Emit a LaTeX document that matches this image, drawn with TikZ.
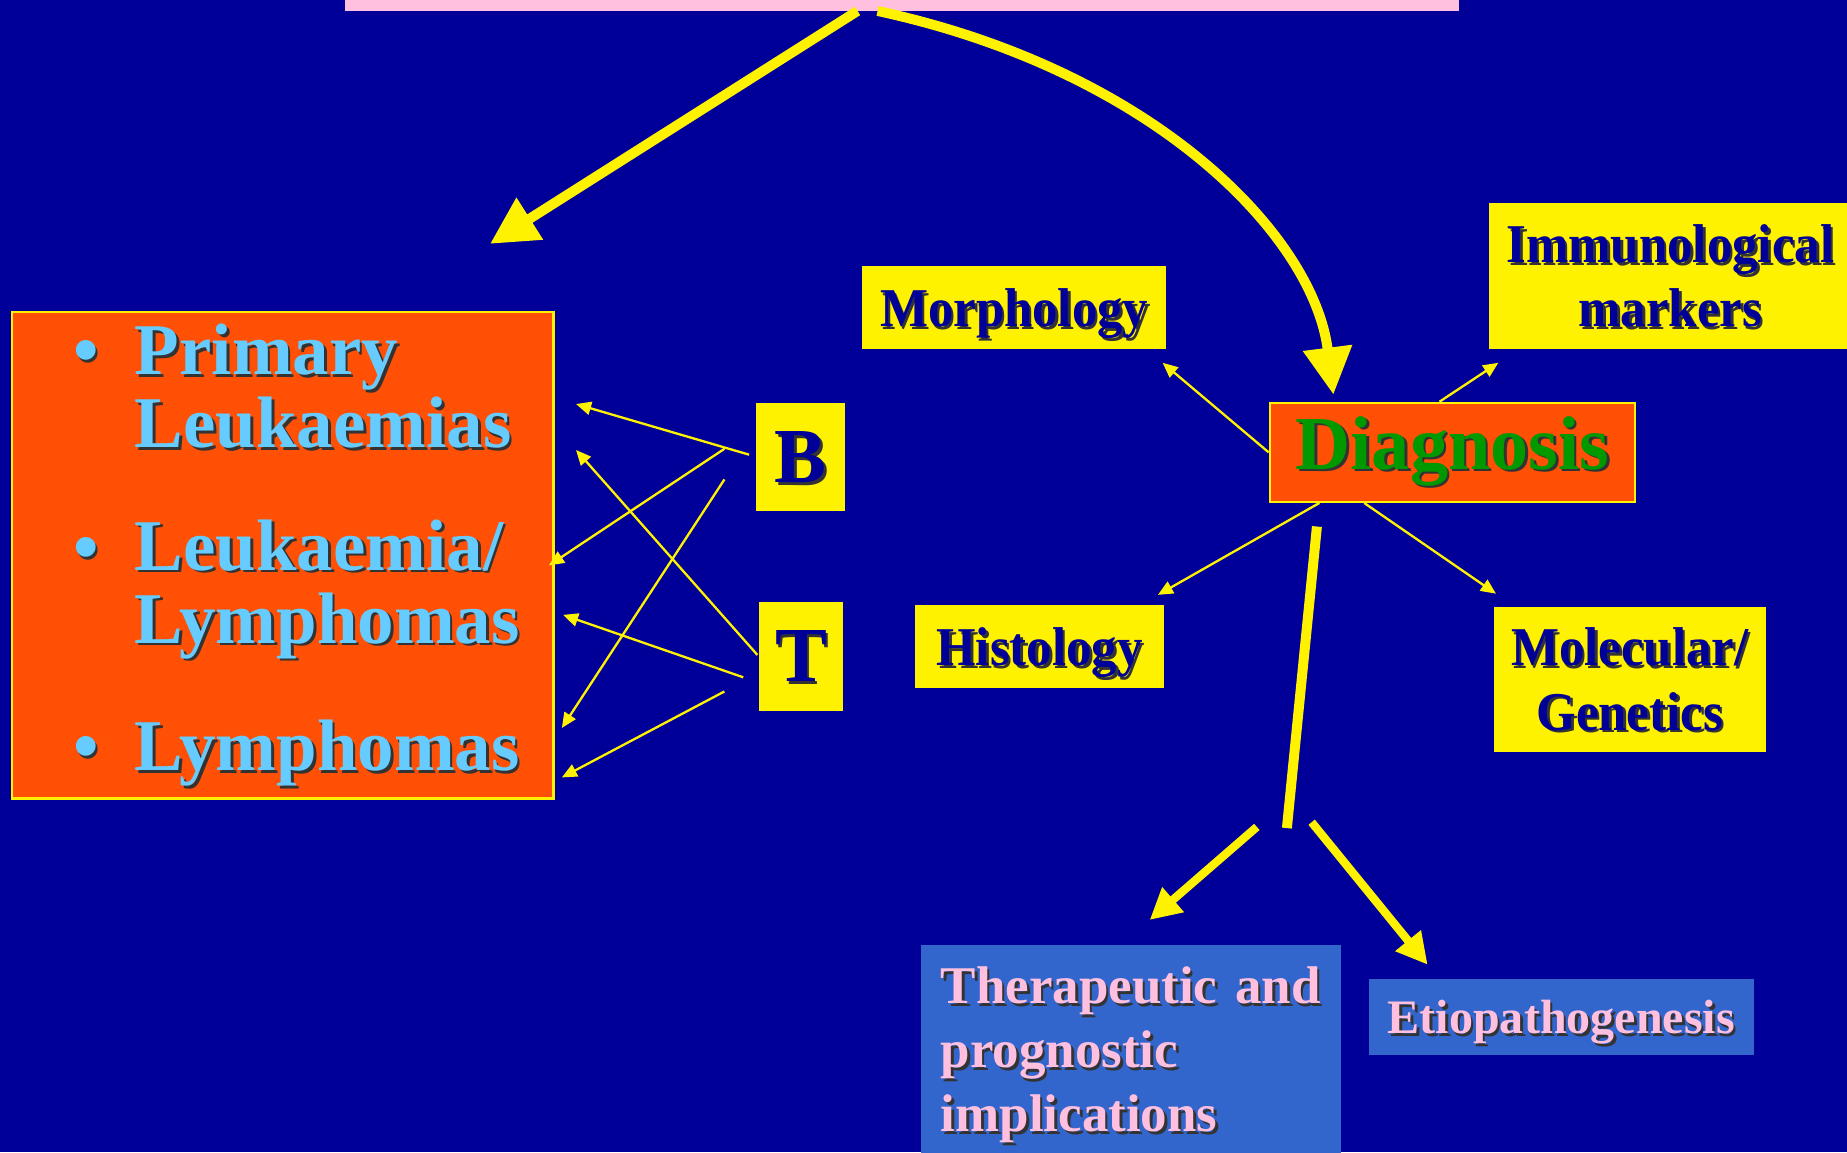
\documentclass[tikz,border=0pt]{standalone}
\usepackage{fontspec}
\setmainfont{Liberation Serif}
\newfontfamily\condfont[FakeStretch=0.93]{Liberation Serif}
\usetikzlibrary{arrows.meta, calc, positioning}

\definecolor{slideblue}{RGB}{0,0,153}
\definecolor{boxorange}{RGB}{255,80,5}
\definecolor{itemblue}{RGB}{102,204,255}
\definecolor{diaggreen}{RGB}{0,153,0}
\definecolor{boxblue}{RGB}{51,102,204}
\definecolor{titlepink}{RGB}{255,192,224}
\colorlet{shadowc}{black!80}

\newcommand{\pxu}{0.0125cm}
\newcommand{\shadowed}[1]{\makebox[0pt][l]{\hspace{0.8pt}\raisebox{-0.8pt}{\textcolor{shadowc}{#1}}}\mbox{#1}}

\tikzset{
  ybox/.style={fill=yellow, text=slideblue, align=center, inner sep=0pt, text depth=0pt,
    font=\condfont\bfseries\fontsize{16.5}{19.4}\selectfont},
  letterbox/.style={fill=yellow, text=slideblue, inner sep=0pt, text depth=0pt,
    font=\bfseries\fontsize{23.5}{23.5}\selectfont},
  orangebox/.style={fill=boxorange, draw=yellow, line width=0.7pt, inner sep=0pt},
  bluebox/.style={fill=boxblue, text=titlepink, inner sep=0pt},
  item/.style={text=itemblue, align=left, inner sep=0pt,
    font=\bfseries\fontsize{22}{22}\selectfont},
  thinarrow/.style={draw=yellow, line width=0.7pt, -{Triangle[length=0.16cm, width=0.14cm]}},
  bigarrow/.style={draw=yellow, line width=3pt, -{Triangle[length=0.5cm, width=0.5cm]}},
  midarrow/.style={draw=yellow, line width=2.5pt, -{Triangle[length=0.33cm, width=0.33cm]}},
}

\begin{document}
\begin{tikzpicture}[x=0.0125cm, y=-0.0125cm]
% Background
\fill[slideblue] (0,0) rectangle (1568,978);
\useasboundingbox (0,0) rectangle (1568,978);
\clip (0,0) rectangle (1568,978);

% Title strip, cut off at the top
\node (title) [fill=titlepink, minimum width=946*\pxu, minimum height=60*\pxu, inner sep=0pt] at (766,-20.7) {};

% Lineages
\node (leuk) [orangebox, minimum width=460*\pxu, minimum height=413*\pxu] at (240,471.5) {};
\node (dot1) [item, anchor=base] at (73,318) {\shadowed{\textbullet}};
\node (dot2) [item, anchor=base] at (73,485.5) {\shadowed{\textbullet}};
\node (dot3) [item, anchor=base] at (73,654) {\shadowed{\textbullet}};
% base of a two-line node = its last line
\node (prim) [item, anchor=base west] at (114,380) {\shadowed{Primary}\\\shadowed{Leukaemias}};
\node (leulym) [item, anchor=base west] at (114,546) {\shadowed{Leukaemia/}\\\shadowed{Lymphomas}};
\node (lym) [item, anchor=base west] at (114,654) {\shadowed{Lymphomas}};

% B and T
\node (B) [letterbox, minimum width=75*\pxu, minimum height=92*\pxu] at (679.5,388) {\shadowed{B}};
\node (T) [letterbox, minimum width=72*\pxu, minimum height=92.5*\pxu] at (680,557) {\shadowed{T}};

\coordinate (b-a) at (636,386);
\coordinate (b-b) at (615,381);
\coordinate (b-c) at (615,407);
\coordinate (t-a) at (643,556);
\coordinate (t-b) at (631,575);
\coordinate (t-c) at (615,587);
\coordinate (prim-a) at (489,343);
\coordinate (prim-b) at (489,382);
\coordinate (leulym-a) at (466,480);
\coordinate (leulym-b) at (478,522);
\coordinate (lym-a) at (477,618);
\coordinate (lym-b) at (477,660);
\draw[thinarrow] (b-a) -- (prim-a);
\draw[thinarrow] (b-b) -- (leulym-a);
\draw[thinarrow] (b-c) -- (lym-a);
\draw[thinarrow] (t-a) -- (prim-b);
\draw[thinarrow] (t-b) -- (leulym-b);
\draw[thinarrow] (t-c) -- (lym-b);

% Diagnosis and its parts
\node (diag) [orangebox, text=diaggreen, minimum width=310*\pxu, minimum height=84*\pxu,
  font=\bfseries\fontsize{23}{23}\selectfont] at (1233,384) {\shadowed{Diagnosis}};
\node (morph) [ybox, minimum width=258*\pxu, minimum height=70*\pxu] at (861,261) {\shadowed{Morphology}};
\node (immuno) [ybox, minimum width=308*\pxu, minimum height=124*\pxu] at (1418,234) {\shadowed{Immunological}\\\shadowed{markers}};
\node (histo) [ybox, minimum width=211*\pxu, minimum height=70*\pxu] at (882.5,549) {\shadowed{Histology}};
\node (molec) [ybox, minimum width=231*\pxu, minimum height=123*\pxu] at (1383.5,576.5) {\shadowed{Molecular/}\\\shadowed{Genetics}};

\coordinate (morph-tip) at (987,308);
\coordinate (immuno-tip) at (1272,308);
\coordinate (histo-tip) at (983,505);
\coordinate (molec-tip) at (1270,504);
\draw[thinarrow] (diag.west) -- (morph-tip);
\draw[thinarrow] ($(diag.north west)!0.465!(diag.north east)$) -- (immuno-tip);
\draw[thinarrow] ($(diag.south west)!0.138!(diag.south east)$) -- (histo-tip);
\draw[thinarrow] ($(diag.south west)!0.26!(diag.south east)$) -- (molec-tip);

% Arrows from the title
\coordinate (src-l) at (728,9.3);
\coordinate (src-r) at (745,9.3);
\coordinate (leuk-tip) at (416,207);
\coordinate (diag-tip) at (1132,335);
\draw[bigarrow] (src-l) -- (leuk-tip);
\draw[bigarrow] (src-r) .. controls (980,60) and (1115,200) .. (diag-tip);

% Consequences
\node (thera) [bluebox, anchor=north west, align=left, inner xsep=17*\pxu, inner ysep=18*\pxu,
  text width=323*\pxu, font=\bfseries\fontsize{16}{19.4}\selectfont] at (781,802)
  {\shadowed{Therapeutic and}\\\shadowed{prognostic}\\\shadowed{implications}};
\node (etio) [bluebox, text depth=0pt, minimum width=327*\pxu, minimum height=65*\pxu,
  font=\bfseries\fontsize{14.5}{14.5}\selectfont] at (1325.5,863.5) {\shadowed{Etiopathogenesis}};

\coordinate (stem) at (1118,447);
\coordinate (fork) at (1092.5,703);
\coordinate (fork-l) at (1067,702);
\coordinate (fork-r) at (1113.5,698);
\coordinate (thera-tip) at (976,781);
\coordinate (etio-tip) at (1212,819);
\draw[draw=yellow, line width=3pt] (stem) -- (fork);
\draw[midarrow] (fork-l) -- (thera-tip);
\draw[midarrow] (fork-r) -- (etio-tip);
\end{tikzpicture}
\end{document}
